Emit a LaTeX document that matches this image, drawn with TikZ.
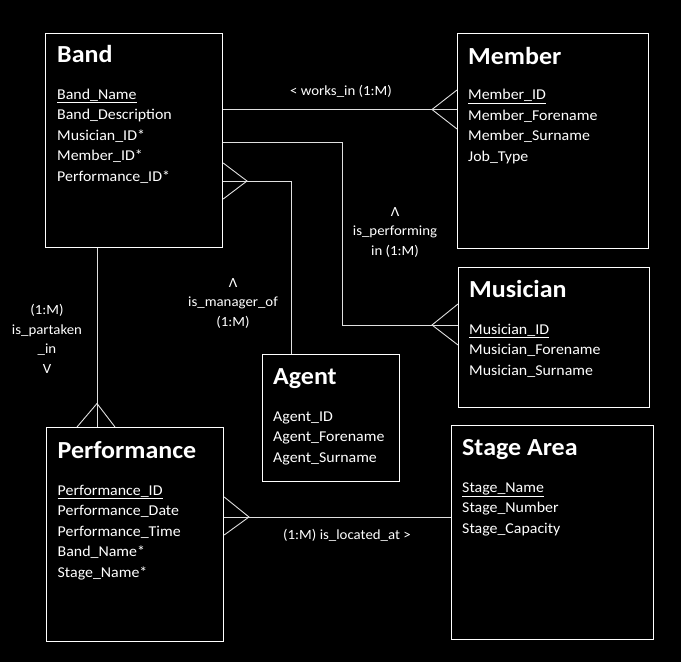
\documentclass[tikz,border=0pt]{standalone}
\usepackage{fontspec}
\setmainfont{Carlito}[FakeStretch=1.06]

\tikzset{
  entity/.style={draw=white, line width=1.2pt, anchor=north west, inner sep=0pt},
  title/.style={anchor=base west, inner sep=0pt, text=white,
    font=\fontsize{24.5}{28}\selectfont\bfseries},
  attr/.style={anchor=base west, inner sep=0pt, text=white,
    font=\fontsize{15}{18}\selectfont},
  rel/.style={inner sep=0pt, text=white, align=center,
    font=\fontsize{14}{19.5}\selectfont},
  link/.style={draw=white!88!black, line width=0.9pt},
}

\begin{document}
\begin{tikzpicture}[x=1pt,y=-1pt]
  \fill[black] (0,0) rectangle (681,662);
  \useasboundingbox (0,0) rectangle (681,662);

  % entities
  \node[entity, minimum width=177pt, minimum height=214pt] (band) at (45,33) {};
  \node[entity, minimum width=191pt, minimum height=215pt] (member) at (457,33) {};
  \node[entity, minimum width=191pt, minimum height=140pt] (musician) at (458,267) {};
  \node[entity, minimum width=137pt, minimum height=127pt] (agent) at (262,354) {};
  \node[entity, minimum width=177pt, minimum height=214pt] (performance) at (46,427) {};
  \node[entity, minimum width=202pt, minimum height=214pt] (stage) at (451,425) {};

  % band
  \node[title] (band-t) at (57,62) {Band};
  \node[attr] (band-a1) at (57,99) {\underline{Band\_Name}};
  \node[attr] (band-a2) at (57,119.6) {Band\_Description};
  \node[attr] (band-a3) at (57,140.2) {Musician\_ID*};
  \node[attr] (band-a4) at (57,160.8) {Member\_ID*};
  \node[attr] (band-a5) at (57,181.4) {Performance\_ID*};

  % member
  \node[title] (member-t) at (468,64) {Member};
  \node[attr] (member-a1) at (468,99.5) {\underline{Member\_ID}};
  \node[attr] (member-a2) at (468,120) {Member\_Forename};
  \node[attr] (member-a3) at (468,140.5) {Member\_Surname};
  \node[attr] (member-a4) at (468,161) {Job\_Type};

  % musician
  \node[title] (musician-t) at (469,297) {Musician};
  \node[attr] (musician-a1) at (469,334) {\underline{Musician\_ID}};
  \node[attr] (musician-a2) at (469,354.5) {Musician\_Forename};
  \node[attr] (musician-a3) at (469,375) {Musician\_Surname};

  % agent
  \node[title] (agent-t) at (273,384.5) {Agent};
  \node[attr] (agent-a1) at (273,421) {Agent\_ID};
  \node[attr] (agent-a2) at (273,441.5) {Agent\_Forename};
  \node[attr] (agent-a3) at (273,462) {Agent\_Surname};

  % performance
  \node[title] (performance-t) at (57.5,458.3) {Performance};
  \node[attr] (performance-a1) at (57.5,495) {\underline{Performance\_ID}};
  \node[attr] (performance-a2) at (57.5,515.6) {Performance\_Date};
  \node[attr] (performance-a3) at (57.5,536.2) {Performance\_Time};
  \node[attr] (performance-a4) at (57.5,556.8) {Band\_Name*};
  \node[attr] (performance-a5) at (57.5,577.4) {Stage\_Name*};

  % stage area
  \node[title] (stage-t) at (462,455.7) {Stage Area};
  \node[attr] (stage-a1) at (462,492.3) {\underline{Stage\_Name}};
  \node[attr] (stage-a2) at (462,512.8) {Stage\_Number};
  \node[attr] (stage-a3) at (462,533.3) {Stage\_Capacity};

  % works_in
  \coordinate (wk) at (432,109.5);
  \draw[link] (band.east |- wk) -- (member.west |- wk);
  \draw[link] (member.west |- 0,90) -- (wk) -- (member.west |- 0,129);
  \node[rel] (works) at (341,91) {< works\_in (1:M)};

  % is_performing
  \coordinate (pf) at (432,325);
  \draw[link] (band.east |- 0,142) -| (342,325) -- (musician.west |- pf);
  \draw[link] (musician.west |- 0,304) -- (pf) -- (musician.west |- 0,345);
  \node[rel] (performing) at (395,232) {Λ\\is\_performing\\in (1:M)};

  % is_manager_of
  \coordinate (mg) at (247,181);
  \draw[link] (agent.north -| 291,0) |- (band.east |- mg);
  \draw[link] (band.east |- 0,163) -- (mg) -- (band.east |- 0,199);
  \node[rel] (manager) at (233,303) {Λ\\is\_manager\_of\\(1:M)};

  % is_partaken_in
  \coordinate (pt) at (97,403.5);
  \draw[link] (band.south -| pt) -- (performance.north -| pt);
  \draw[link] (performance.north -| 77,0) -- (pt) -- (performance.north -| 115,0);
  \node[rel] (partaken) at (47,339) {(1:M)\\is\_partaken\\\_in\\V};

  % is_located_at
  \coordinate (lc) at (249,517);
  \draw[link] (performance.east |- lc) -- (stage.west |- lc);
  \draw[link] (performance.east |- 0,497) -- (lc) -- (performance.east |- 0,535);
  \node[rel] (located) at (347,535) {(1:M) is\_located\_at >};
\end{tikzpicture}
\end{document}
